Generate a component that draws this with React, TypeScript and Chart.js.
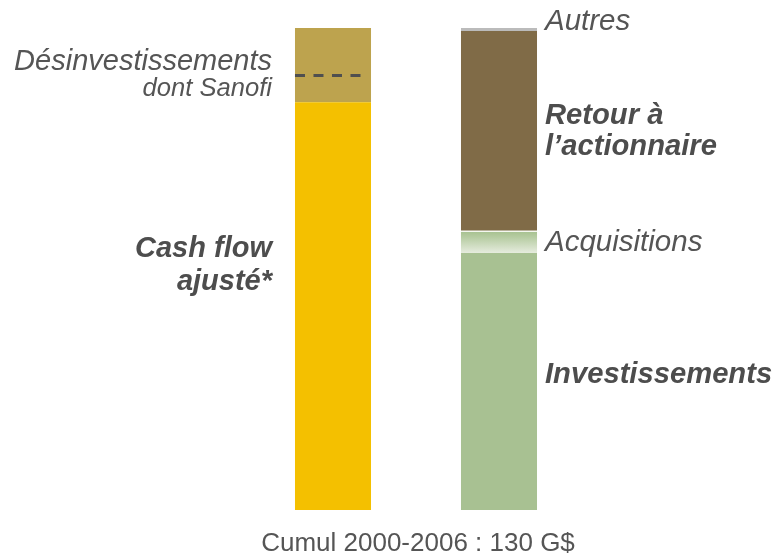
import React, { useEffect, useRef } from "react";
import { Chart, registerables } from "chart.js";

Chart.register(...registerables);

const categories = ["Ressources", "Emplois"];
const cashFlowAjuste = [110, null];
const dontSanofi = [7.3, null];
const autresDesinvestissements = [12.7, null];
const investissements = [null, 69.3];
const acquisitions = [null, 6.0];
const retourActionnaire = [null, 53.9];
const autres = [null, 0.8];
const yMax = 130;
const footer = "Cumul 2000-2006 : 130 G$";

const TEXT = "#555555";
const FONT = "'Liberation Sans', Arial, sans-serif";
const ACQ_INDEX = 4;

const gradientPlugin = {
  id: "gradientPlugin",
  afterDatasetDraw(chart: any, args: any) {
    if (args.index !== ACQ_INDEX) return;
    const el = args.meta.data[1] as any;
    if (!el) return;
    const top = Math.min(el.y, el.base);
    const bottom = Math.max(el.y, el.base);
    const left = el.x - el.width / 2;
    const { ctx } = chart;
    ctx.save();
    const g = ctx.createLinearGradient(0, top + 1, 0, bottom);
    g.addColorStop(0, "#a8c291");
    g.addColorStop(0.25, "#b6cca2");
    g.addColorStop(1, "#e6ecde");
    ctx.fillStyle = g;
    ctx.fillRect(left, top + 1, el.width, bottom - top - 1);
    ctx.fillStyle = "#ffffff";
    ctx.fillRect(left, top, el.width, 1);
    ctx.restore();
  },
};

const labelsPlugin = {
  id: "labelsPlugin",
  afterDatasetsDraw(chart: any) {
    const { ctx, scales } = chart;
    const y = scales.y;
    const m0 = chart.getDatasetMeta(0).data[0] as any;
    const m1 = chart.getDatasetMeta(3).data[1] as any;
    const b1L = m0.x - m0.width / 2;
    const b1R = m0.x + m0.width / 2;
    const b2R = m1.x + m1.width / 2;

    // dashed line: top of "dont Sanofi" part
    const dashY = y.getPixelForValue((cashFlowAjuste[0] as number) + (dontSanofi[0] as number));
    ctx.save();
    ctx.strokeStyle = "#4f4f4f";
    ctx.lineWidth = 3;
    ctx.setLineDash([10, 8.5]);
    ctx.beginPath();
    ctx.moveTo(b1L, Math.round(dashY) + 0.5);
    ctx.lineTo(b1R - 9, Math.round(dashY) + 0.5);
    ctx.stroke();
    ctx.restore();

    ctx.save();
    ctx.fillStyle = TEXT;
    ctx.textBaseline = "alphabetic";
    const lx = b1L - 23;
    ctx.textAlign = "right";
    ctx.font = `italic 29px ${FONT}`;
    ctx.fillText("Désinvestissements", lx, 70);
    ctx.font = `italic 25.6px ${FONT}`;
    ctx.fillText("dont Sanofi", lx, 96);
    ctx.fillStyle = "#4d4d4d";
    ctx.font = `italic bold 29px ${FONT}`;
    ctx.fillText("Cash flow", lx, 257);
    ctx.fillText("ajusté*", lx, 290);

    const rx = b2R + 8;
    ctx.textAlign = "left";
    ctx.fillStyle = TEXT;
    ctx.font = `italic 29.5px ${FONT}`;
    ctx.fillText("Autres", rx, 30);
    ctx.fillText("Acquisitions", rx, 251);
    ctx.fillStyle = "#4d4d4d";
    ctx.font = `italic bold 29.2px ${FONT}`;
    ctx.fillText("Retour à", rx, 124);
    ctx.fillText("l’actionnaire", rx, 155);
    ctx.fillText("Investissements", rx, 383);

    ctx.fillStyle = TEXT;
    ctx.textAlign = "center";
    ctx.font = `26px ${FONT}`;
    ctx.fillText(footer, (b1L + b2R) / 2 + 2, 551);
    ctx.restore();
  },
};

export default function App() {
  const ref = useRef<HTMLCanvasElement | null>(null);
  useEffect(() => {
    if (!ref.current) return;
    const chart = new Chart(ref.current, {
      type: "bar",
      data: {
        labels: categories,
        datasets: [
          { label: "Cash flow ajusté", data: cashFlowAjuste, backgroundColor: "#f4c000" },
          { label: "dont Sanofi", data: dontSanofi, backgroundColor: "#bda34e" },
          { label: "Désinvestissements", data: autresDesinvestissements, backgroundColor: "#bda34e" },
          { label: "Investissements", data: investissements, backgroundColor: "#a8c192" },
          { label: "Acquisitions", data: acquisitions, backgroundColor: "#c6d6b6" },
          { label: "Retour à l’actionnaire", data: retourActionnaire, backgroundColor: "#806b47" },
          { label: "Autres", data: autres, backgroundColor: "#bbbbbb" },
        ] as any,
      },
      options: {
        animation: false,
        responsive: true,
        maintainAspectRatio: false,
        layout: { padding: { left: 250, right: 193, top: 28, bottom: 43 } },
        datasets: { bar: { barPercentage: 1, categoryPercentage: 0.458 } } as any,
        plugins: { legend: { display: false }, tooltip: { enabled: false } },
        scales: {
          x: { type: "category", stacked: true, display: false },
          y: { stacked: true, display: false, min: 0, max: yMax },
        },
      },
      plugins: [gradientPlugin, labelsPlugin],
    });
    return () => chart.destroy();
  }, []);
  return (
    <div style={{ position: "fixed", left: 0, top: 0, width: 775, height: 553, background: "#fff" }}>
      <canvas ref={ref} />
    </div>
  );
}
